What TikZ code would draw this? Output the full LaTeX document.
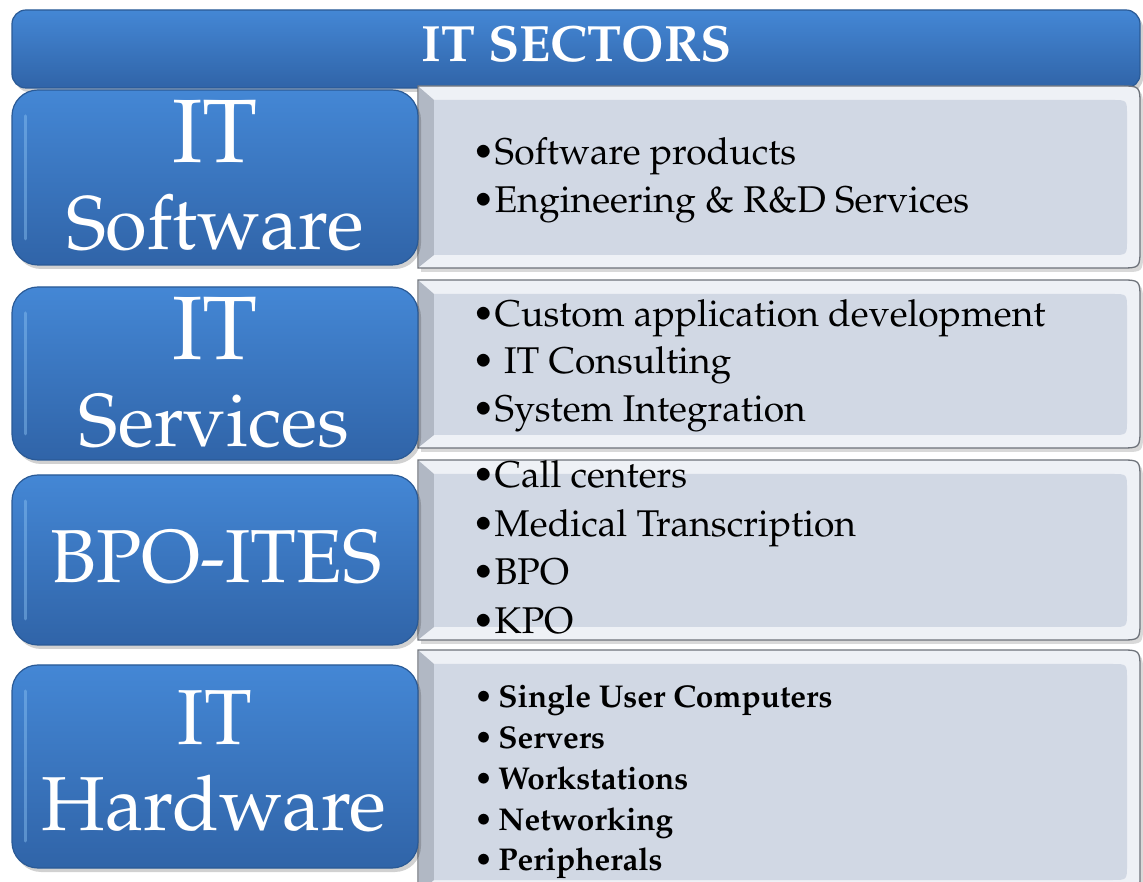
\documentclass[tikz,border=0pt]{standalone}
\usepackage[T1]{fontenc}
\usepackage{mathpazo}
\definecolor{bluetop}{HTML}{4487D5}
\definecolor{bluebot}{HTML}{3064A8}
\definecolor{blueedge}{HTML}{2A5A96}
\definecolor{bluehi}{HTML}{8CC2F2}
\definecolor{grayfill}{HTML}{D1D8E4}
\definecolor{graylight}{HTML}{EEF1F6}
\definecolor{grayedge}{HTML}{6E737B}
\definecolor{graydark}{HTML}{B1B8C4}
\tikzset{
  bluebox/.style={rounded corners=26pt, top color=bluetop, bottom color=bluebot, draw=blueedge, line width=1.2pt, inner sep=0pt},
  titlebar/.style={rounded corners=14pt, top color=bluetop, bottom color=bluebot, draw=blueedge, line width=1.2pt, inner sep=0pt},
  shadowbox/.style={rounded corners=26pt, fill=black, opacity=0.18, draw=none, inner sep=0pt},
  bigtxt/.style={text=white, inner sep=0pt, anchor=base},
  itemtxt/.style={text=black, inner sep=0pt, anchor=base west, font=\fontsize{37.2}{44}\selectfont},
  bolditem/.style={text=black, inner sep=0pt, anchor=base west, font=\fontsize{31.5}{36}\selectfont\bfseries}
}
\newcommand{\graybox}[2]{%
  % #1 top Y, #2 bottom Y
  \fill[black, opacity=0.15] (421,#1-4) -- (1124,#1-4) .. controls (1143,#1-4) .. (1143,#1-24) -- (1143,#2+16) .. controls (1143,#2-4) .. (1124,#2-4) -- (421,#2-4) -- cycle;
  \draw[grayedge, fill=graylight, line width=1.3pt] (418,#1) -- (1120,#1) .. controls (1140,#1) .. (1140,#1-20) -- (1140,#2+20) .. controls (1140,#2) .. (1120,#2) -- (418,#2) -- cycle;
  \fill[graydark] (419,#1-1) -- (434,#1-14) -- (434,#2+13) -- (419,#2+1) -- cycle;
  \fill[grayfill] (434,#1-14) -- (1112,#1-14) .. controls (1127,#1-14) .. (1127,#1-29) -- (1127,#2+28) .. controls (1127,#2+13) .. (1112,#2+13) -- (434,#2+13) -- cycle;
}
\begin{document}
\begin{tikzpicture}[x=1pt,y=1pt]
\useasboundingbox (0,0) rectangle (1143,881);
\fill[white] (0,0) rectangle (1143,881);
\clip (0,0) rectangle (1143,881);

% title bar
\node[shadowbox, rounded corners=14pt, minimum width=1128pt, minimum height=78pt] at (579,828) {};
\node[titlebar, minimum width=1128pt, minimum height=78pt] (title) at (576,832) {};
\node[bigtxt, font=\fontsize{51}{60}\selectfont\bfseries] (titletxt) at (577,819) {IT SECTORS};

% gray boxes
\graybox{795}{613}
\graybox{601}{433}
\graybox{421}{241}
\graybox{231}{-12}

% blue boxes
\node[shadowbox, minimum width=406pt, minimum height=175pt] at (218,699.5) {};
\node[bluebox, minimum width=406pt, minimum height=175pt] (b1) at (215,703.5) {};
\node[shadowbox, minimum width=406pt, minimum height=173pt] at (218,503.5) {};
\node[bluebox, minimum width=406pt, minimum height=173pt] (b2) at (215,507.5) {};
\node[shadowbox, minimum width=406pt, minimum height=170pt] at (218,317) {};
\node[bluebox, minimum width=406pt, minimum height=170pt] (b3) at (215,321) {};
\node[shadowbox, minimum width=406pt, minimum height=203pt] at (218,110.5) {};
\node[bluebox, minimum width=406pt, minimum height=203pt] (b4) at (215,114.5) {};

% left highlight strips
\foreach \t/\b in {765/642, 568/447, 380/262, 190/40}{
  \draw[bluehi, line width=3pt, opacity=0.45, line cap=round] (25,\t) -- (25,\b);
}

% left labels
\node[bigtxt, font=\fontsize{90}{90}\selectfont] (b1a) at (215,718) {IT};
\node[bigtxt, font=\fontsize{76}{76}\selectfont] (b1b) at (215,631) {Software};
\node[bigtxt, font=\fontsize{90}{90}\selectfont] (b2a) at (215,521) {IT};
\node[bigtxt, font=\fontsize{75}{75}\selectfont] (b2b) at (214,434) {Services};
\node[bigtxt, font=\fontsize{75}{75}\selectfont] (b3a) at (216,298) {BPO-ITES};
\node[bigtxt, font=\fontsize{78}{78}\selectfont] (b4a) at (215,136) {IT};
\node[bigtxt, font=\fontsize{76.5}{76}\selectfont] (b4b) at (214,51) {Hardware};

% right items
\node[itemtxt] (r1a) at (472,716) {\textbullet Software products};
\node[itemtxt] (r1b) at (472,668) {\textbullet Engineering \& R\&D Services};
\node[itemtxt] (r2a) at (472,554) {\textbullet Custom application development};
\node[itemtxt] (r2b) at (472,507) {\textbullet\ IT Consulting};
\node[itemtxt] (r2c) at (472,459) {\textbullet System Integration};
\node[itemtxt] (r3a) at (472,393) {\textbullet Call centers};
\node[itemtxt] (r3b) at (472,344) {\textbullet Medical Transcription};
\node[itemtxt] (r3c) at (472,296) {\textbullet BPO};
\node[itemtxt] (r3d) at (472,247) {\textbullet KPO};
\node[bolditem] (r4a) at (474,173) {\textbullet\hspace{5pt}Single User Computers};
\node[bolditem] (r4b) at (474,132) {\textbullet\hspace{5pt}Servers};
\node[bolditem] (r4c) at (474,92) {\textbullet\hspace{5pt}Workstations};
\node[bolditem] (r4d) at (474,51) {\textbullet\hspace{5pt}Networking};
\node[bolditem] (r4e) at (474,11) {\textbullet\hspace{5pt}Peripherals};
\end{tikzpicture}
\end{document}
